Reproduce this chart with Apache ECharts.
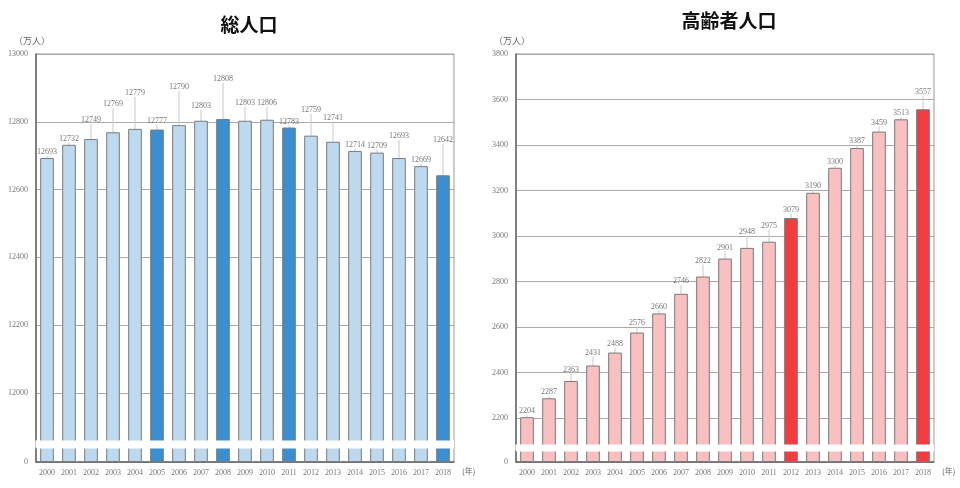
<!DOCTYPE html>
<html>
<head>
<meta charset="utf-8">
<script src="https://cdn.jsdelivr.net/npm/echarts@6/dist/echarts.min.js"></script>
<style>
    html, body { margin: 0; padding: 0; background: #fff; }
    #chart { width: 960px; height: 488px; }
</style>
</head>
<body>
<div id="chart"></div>
<script>
    let years = ['2000', '2001', '2002', '2003', '2004', '2005', '2006', '2007', '2008', '2009',
        '2010', '2011', '2012', '2013', '2014', '2015', '2016', '2017', '2018']
    let totalPop = [12693, 12732, 12749, 12769, 12779, 12777, 12790, 12803, 12808, 12803,
        12806, 12783, 12759, 12741, 12714, 12709, 12693, 12669, 12642]
    let elderPop = [2204, 2287, 2363, 2431, 2488, 2576, 2660, 2746, 2822, 2901,
        2948, 2975, 3079, 3190, 3300, 3387, 3459, 3513, 3557]
    let totalMarked = ['2005', '2008', '2011', '2018']
    let elderMarked = ['2012', '2018']
    let totalTicks = [0, 12000, 12200, 12400, 12600, 12800, 13000]
    let elderTicks = [0, 2200, 2400, 2600, 2800, 3000, 3200, 3400, 3600, 3800]

    // how far each value label sits above its bar (px)
    let totalLift = [7, 5, 20, 29, 37, 10, 39, 16, 41, 19, 18, 7, 27, 25, 7, 8, 23, 6, 36]
    let elderLift = [6, 6, 12, 14, 10, 11, 8, 14, 17, 12, 17, 17, 9, 8, 5, 8, 10, 7, 18]

    let chart = echarts.init(document.getElementById('chart'))

    function barData(values, marked, light, dark) {
        return values.map((v, i) => {
            return {
                value: v,
                itemStyle: {
                    color: marked.indexOf(years[i]) > -1 ? dark : light
                }
            }
        })
    }

    function yAxisOf(idx, max, brk, ticks) {
        return {
            type: 'value',
            gridIndex: idx,
            min: 0,
            max: max,
            interval: 200,
            name: '（万人）',
            nameLocation: 'end',
            nameGap: 9,
            nameTextStyle: {
                color: '#666',
                fontSize: 9,
                fontFamily: 'Noto Sans CJK JP',
                align: 'right',
                padding: [0, -14, 0, 0]
            },
            breaks: [brk],
            breakArea: {
                show: true,
                itemStyle: {
                    color: '#fff',
                    opacity: 1,
                    borderColor: '#fff',
                    borderWidth: 0
                },
                zigzagAmplitude: 0,
                expandOnClick: false
            },
            axisLine: {show: true, lineStyle: {color: '#666', width: 1.5}},
            axisTick: {show: false},
            splitLine: {
                show: true,
                customValues: ticks,
                lineStyle: {color: '#aaa', width: 1}
            },
            axisLabel: {
                color: '#777',
                fontSize: 8,
                fontFamily: 'Liberation Serif',
                margin: 8,
                customValues: ticks,
                formatter: v => String(v)
            }
        }
    }

    function xAxisOf(idx) {
        return {
            type: 'category',
            gridIndex: idx,
            data: years,
            name: '(年)',
            nameLocation: 'end',
            nameGap: 8,
            nameTextStyle: {
                color: '#666',
                fontSize: 8,
                fontFamily: 'Noto Sans CJK JP',
                verticalAlign: 'top',
                padding: [5, 0, 0, 0]
            },
            axisLine: {show: true, lineStyle: {color: '#666', width: 1.5}},
            axisTick: {show: false},
            axisLabel: {
                color: '#777',
                fontSize: 8,
                fontFamily: 'Liberation Serif',
                margin: 7,
                interval: 0
            }
        }
    }

    function barSeries(idx, values, marked, light, dark, lift, ticks) {
        return {
            type: 'bar',
            xAxisIndex: idx,
            yAxisIndex: idx,
            barWidth: '62%',
            data: barData(values, marked, light, dark),
            itemStyle: {
                borderColor: '#7a7a7a',
                borderWidth: 1
            },
            label: {
                show: true,
                position: 'top',
                distance: 2,
                color: '#777',
                fontSize: 8,
                fontFamily: 'Liberation Serif'
            },
            labelLayout: params => {
                let d = lift[params.dataIndex] - 7
                return d > 0 ? {dy: -d} : {}
            },
            labelLine: {
                show: true,
                lineStyle: {color: '#c8c8c8', width: 1}
            },
            // gridline at the lowest tick above the break
            markLine: {
                silent: true,
                symbol: 'none',
                label: {show: false},
                lineStyle: {color: '#aaa', width: 1, type: 'solid'},
                z: 0,
                data: [{yAxis: ticks[1]}]
            },
            z: 2
        }
    }

    let option = {
        animation: false,
        backgroundColor: '#fff',
        title: [{
            text: '総人口',
            left: 244,
            top: 10,
            textAlign: 'center',
            textStyle: {
                color: '#111',
                fontSize: 19,
                fontWeight: 'bold',
                fontFamily: 'Noto Sans CJK JP'
            }
        }, {
            text: '高齢者人口',
            left: 724,
            top: 6,
            textAlign: 'center',
            textStyle: {
                color: '#111',
                fontSize: 19,
                fontWeight: 'bold',
                fontFamily: 'Noto Sans CJK JP'
            }
        }],
        grid: [{
            left: 36,
            right: 506,
            top: 54,
            bottom: 26,
            show: true,
            borderColor: '#999',
            borderWidth: 1
        }, {
            left: 516,
            right: 26,
            top: 54,
            bottom: 26,
            show: true,
            borderColor: '#999',
            borderWidth: 1
        }],
        xAxis: [xAxisOf(0), xAxisOf(1)],
        yAxis: [
            yAxisOf(0, 13000, {start: 41, end: 11861, gap: 24}, totalTicks),
            yAxisOf(1, 3800, {start: 48, end: 2086, gap: 31}, elderTicks)
        ],
        series: [
            barSeries(0, totalPop, totalMarked, '#bdd9ef', '#3b8fd0', totalLift, totalTicks),
            barSeries(1, elderPop, elderMarked, '#f9bfc1', '#f23c3f', elderLift, elderTicks)
        ]
    }

    chart.setOption(option)
</script>
</body>
</html>
